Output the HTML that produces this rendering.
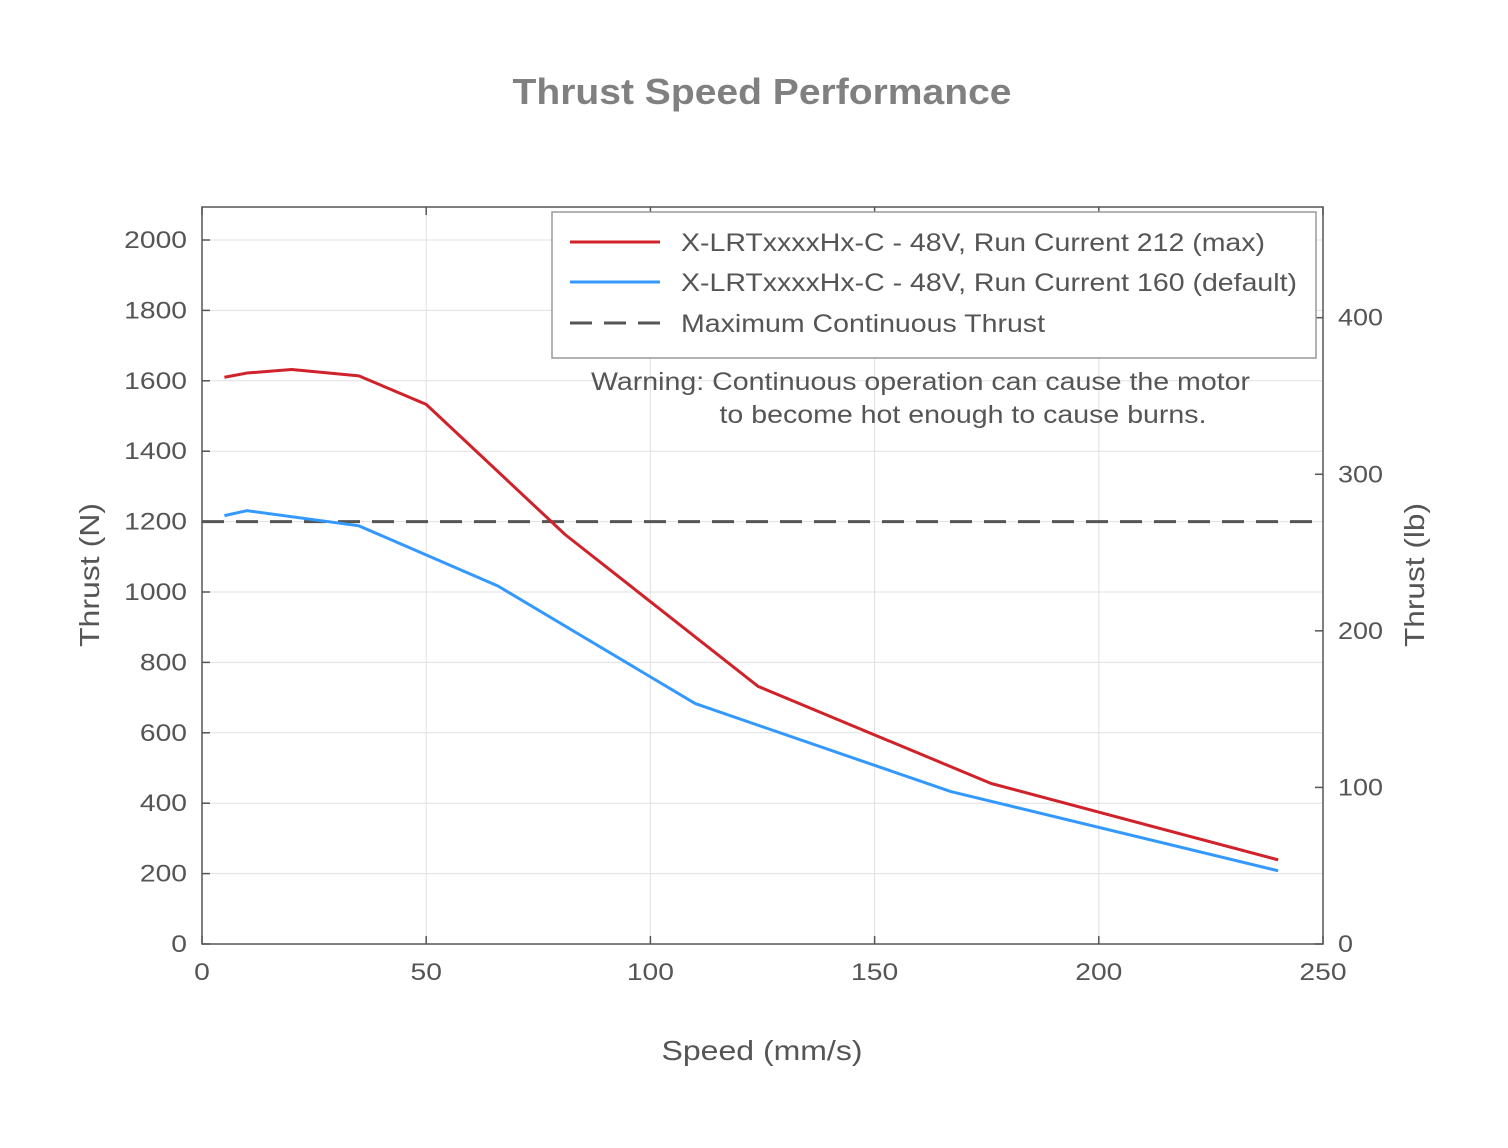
<!DOCTYPE html>
<html><head><meta charset="utf-8"><style>
html,body{margin:0;padding:0;background:#fff;}
svg text{font-family:"Liberation Sans",Arial,sans-serif;}
</style></head><body>
<svg id="chart" width="1508" height="1143" xmlns="http://www.w3.org/2000/svg">
<rect width="1508" height="1143" fill="#fff"/>
<text x="762" y="104" text-anchor="middle" font-size="36" font-weight="bold" fill="#808080" textLength="499" lengthAdjust="spacingAndGlyphs">Thrust Speed Performance</text>
<g id="grid"></g>
<g id="axes"></g>
<g id="series"></g>
<rect x="202" y="207" width="1121" height="737" fill="none" stroke="#555" stroke-width="1.5"/>
<text x="762" y="1060" text-anchor="middle" font-size="28" fill="#555" textLength="201" lengthAdjust="spacingAndGlyphs">Speed (mm/s)</text>
<text transform="translate(99,575) rotate(-90)" text-anchor="middle" font-size="28" fill="#555" textLength="144" lengthAdjust="spacingAndGlyphs">Thrust (N)</text>
<text transform="translate(1424,575) rotate(-90)" text-anchor="middle" font-size="28" fill="#555" textLength="144" lengthAdjust="spacingAndGlyphs">Thrust (lb)</text>
<g>
<rect x="552" y="212" width="764" height="146" fill="#fff" stroke="#999" stroke-width="1.5"/>
<line x1="570" y1="242" x2="660" y2="242" stroke="#d0222a" stroke-width="3"/>
<text x="681" y="251" font-size="25" fill="#555" textLength="584" lengthAdjust="spacingAndGlyphs">X-LRTxxxxHx-C - 48V, Run Current 212 (max)</text>
<line x1="570" y1="282" x2="660" y2="282" stroke="#3399ff" stroke-width="3"/>
<text x="681" y="291" font-size="25" fill="#555" textLength="616" lengthAdjust="spacingAndGlyphs">X-LRTxxxxHx-C - 48V, Run Current 160 (default)</text>
<line x1="570" y1="323" x2="660" y2="323" stroke="#555" stroke-width="3" stroke-dasharray="22,12"/>
<text x="681" y="332" font-size="25" fill="#555" textLength="364" lengthAdjust="spacingAndGlyphs">Maximum Continuous Thrust</text>
</g>
<text font-size="25" fill="#555" text-anchor="middle">
<tspan x="924" y="390" textLength="659" lengthAdjust="spacingAndGlyphs">Warning: Continuous operation can cause the motor</tspan>
<tspan x="963" y="423" textLength="487" lengthAdjust="spacingAndGlyphs">to become hot enough to cause burns.</tspan>
</text>
</svg>
<script>
const xTicks = [0, 50, 100, 150, 200, 250];
const yTicks = [0, 200, 400, 600, 800, 1000, 1200, 1400, 1600, 1800, 2000];
const y2Ticks = [0, 100, 200, 300, 400];
const redX = [5, 10, 20, 35, 50, 81, 124, 176, 240];
const redY = [1610, 1622, 1632, 1614, 1533, 1163, 732, 456, 239];
const blueX = [5, 10, 35, 66, 110, 167, 240];
const blueY = [1217, 1231, 1188, 1017, 683, 433, 208];
const maxThrust = 1200;
const LB = 4.44822;

const X0 = 202, X1 = 1323, Y0 = 944, YTOP = 207;
const xScale = v => X0 + (v / 250) * (X1 - X0);
const yScale = v => Y0 - v * 0.352;
const NS = 'http://www.w3.org/2000/svg';
function mk(tag, attrs, parent) {
  const e = document.createElementNS(NS, tag);
  for (const k in attrs) e.setAttribute(k, attrs[k]);
  parent.appendChild(e);
  return e;
}
const grid = document.getElementById('grid');
const axes = document.getElementById('axes');
const series = document.getElementById('series');

xTicks.forEach(t => {
  const x = xScale(t);
  const g = mk('line', {x1: x, x2: x, y1: YTOP, y2: Y0, stroke: '#e0e0e0', 'stroke-width': 1}, grid);
  
  
  mk('line', {x1: x, x2: x, y1: Y0, y2: Y0 - 8, stroke: '#555', 'stroke-width': 1.5}, axes);
  mk('line', {x1: x, x2: x, y1: YTOP, y2: YTOP + 8, stroke: '#555', 'stroke-width': 1.5}, axes);
  const s = String(t);
  const tx = mk('text', {x: x, y: Y0 + 36, 'text-anchor': 'middle', 'font-size': 24, fill: '#555', textLength: s.length * 15.7, lengthAdjust: 'spacingAndGlyphs'}, axes);
  tx.textContent = s;
  
  
});
yTicks.forEach(t => {
  const y = yScale(t);
  const g = mk('line', {x1: X0, x2: X1, y1: y, y2: y, stroke: '#e0e0e0', 'stroke-width': 1}, grid);
  
  
  mk('line', {x1: X0, x2: X0 + 8, y1: y, y2: y, stroke: '#555', 'stroke-width': 1.5}, axes);
  const s = String(t);
  const tx = mk('text', {x: X0 - 15, y: y + 8, 'text-anchor': 'end', 'font-size': 24, fill: '#555', textLength: s.length * 15.7, lengthAdjust: 'spacingAndGlyphs'}, axes);
  tx.textContent = s;
  
  
});
y2Ticks.forEach(t => {
  const y = yScale(t * LB);
  mk('line', {x1: X1 - 8, x2: X1, y1: y, y2: y, stroke: '#555', 'stroke-width': 1.5}, axes);
  const s = String(t);
  const tx = mk('text', {x: X1 + 15, y: y + 8, 'text-anchor': 'start', 'font-size': 24, fill: '#555', textLength: s.length * 15, lengthAdjust: 'spacingAndGlyphs'}, axes);
  tx.textContent = s;
  
  
});

const lim = mk('line', {x1: X0, x2: X1, y1: yScale(maxThrust), y2: yScale(maxThrust), stroke: '#555', 'stroke-width': 3, 'stroke-dasharray': '22,12'}, series);



const pts = (xs, ys) => xs.map((v, i) => xScale(v) + ',' + yScale(ys[i])).join(' ');
const red = mk('polyline', {points: pts(redX, redY), fill: 'none', stroke: '#d0222a', 'stroke-width': 3, 'stroke-linejoin': 'round'}, series);


const blue = mk('polyline', {points: pts(blueX, blueY), fill: 'none', stroke: '#3399ff', 'stroke-width': 3, 'stroke-linejoin': 'round'}, series);


</script>
</body></html>
